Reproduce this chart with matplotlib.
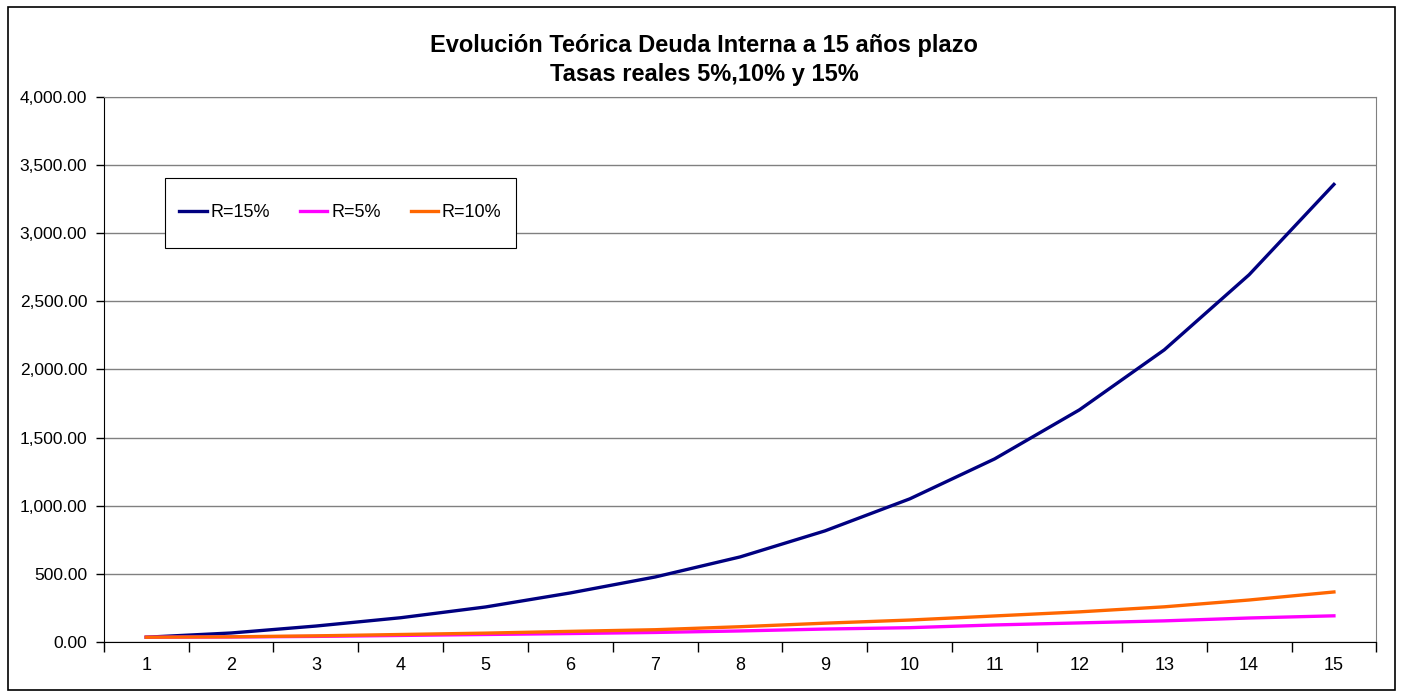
import numpy as np
import matplotlib.pyplot as plt
from matplotlib.ticker import FuncFormatter, FixedLocator
from matplotlib.patches import Rectangle

plt.rcParams['font.family'] = ['Liberation Sans', 'DejaVu Sans']

# datos
anios = list(range(1, 16))
r15 = [35, 66, 117, 178, 257, 360, 477, 624, 815, 1050, 1343, 1703, 2143, 2694, 3357]
r5 = [35, 37, 41, 48, 55, 62, 70, 81, 95, 105, 125, 140, 155, 176, 192]
r10 = [35, 38, 45, 55, 65, 78, 90, 112, 138, 161, 191, 221, 258, 308, 367]

fig = plt.figure(figsize=(14.03, 6.96), dpi=100)
fig.patches.append(Rectangle((0.006, 0.008), 0.988, 0.982, transform=fig.transFigure,
                             fill=False, edgecolor='black', linewidth=1.2))
ax = fig.add_axes([0.074, 0.0776, 0.907, 0.7834])

ax.plot(anios, r15, color='#000080', lw=2.4, label='R=15%')
ax.plot(anios, r5, color='#FF00FF', lw=2.4, label='R=5%')
ax.plot(anios, r10, color='#FF6600', lw=2.4, label='R=10%')

ax.set_xlim(0.5, 15.5)
ax.set_ylim(0, 4000)
ax.set_yticks(np.arange(0, 4001, 500))
ax.yaxis.set_major_formatter(FuncFormatter(lambda v, p: f'{v:,.2f}'))
ax.grid(axis='y', color='#808080', lw=1)
ax.set_axisbelow(True)

ax.xaxis.set_major_locator(FixedLocator(np.arange(0.5, 15.6, 1)))
ax.xaxis.set_minor_locator(FixedLocator(anios))
ax.set_xticklabels([])
ax.set_xticklabels([str(a) for a in anios], minor=True)
ax.tick_params(axis='x', which='major', length=7, direction='out', width=1)
ax.tick_params(axis='x', which='minor', length=0, pad=11, labelsize=13)
ax.tick_params(axis='y', length=6, direction='out', width=1, labelsize=12.5, pad=6)

for s in ['top', 'right']:
    ax.spines[s].set_color('#808080')
for s in ['left', 'bottom']:
    ax.spines[s].set_color('black')

fig.text(0.502, 0.914, 'Evolución Teórica Deuda Interna a 15 años plazo\nTasas reales 5%,10% y 15%',
         ha='center', va='center', fontsize=17, fontweight='bold', linespacing=1.35)

# caja de la leyenda
ax.add_patch(Rectangle((0.048, 0.723), 0.276, 0.128, transform=ax.transAxes,
                       facecolor='white', edgecolor='black', lw=0.8, zorder=4))
leg = ax.legend(loc='center', bbox_to_anchor=(0.186, 0.787), ncol=3, fontsize=13,
                frameon=False, handlelength=1.5, handletextpad=0.2,
                columnspacing=1.7, borderpad=0, borderaxespad=0)
leg.set_zorder(5)

fig.savefig('out.png', dpi=100)
